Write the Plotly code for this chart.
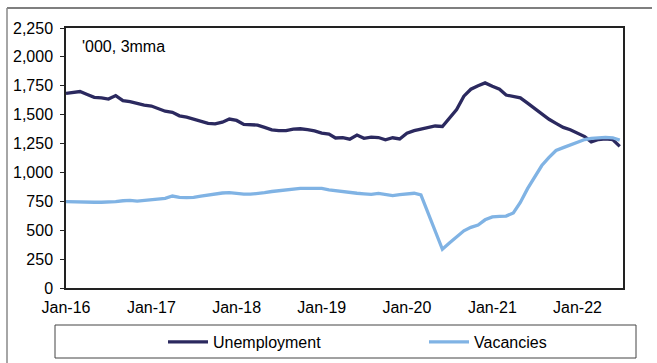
import plotly.graph_objects as go
import pandas as pd

months = pd.date_range("2016-01-01", "2022-07-01", freq="MS")

unemployment = [
    1685, 1695, 1700, 1675, 1650, 1645, 1635, 1665, 1622, 1612, 1595, 1582,
    1575, 1550, 1530, 1520, 1490, 1478, 1460, 1440, 1425, 1420, 1435, 1462,
    1450, 1415, 1412, 1410, 1390, 1368, 1362, 1362, 1375, 1378, 1370, 1360,
    1340, 1332, 1298, 1302, 1288, 1324, 1295, 1305, 1302, 1282, 1300, 1290,
    1340, 1362, 1375, 1387, 1402, 1398, 1470, 1545, 1660, 1720, 1750, 1775,
    1745, 1720, 1670, 1655, 1645, 1600, 1555, 1515, 1460, 1425, 1390, 1370,
    1340, 1310, 1265, 1285, 1290, 1285, 1225,
]

vacancies = [
    748, 745, 743, 742, 742, 742, 742, 748, 755, 758, 752, 758,
    762, 770, 776, 796, 784, 782, 784, 795, 805, 815, 822, 825,
    818, 812, 812, 815, 825, 835, 842, 850, 858, 862, 862, 860,
    862, 850, 842, 835, 828, 820, 815, 811, 818, 812, 800, 808,
    815, 820, 805, 650, 490, 335, 390, 440, 495, 525, 545, 590,
    615, 620, 622, 650, 740, 860, 960, 1060, 1130, 1190, 1215, 1240,
    1265, 1285, 1295, 1302, 1303, 1300, 1280,
]

unit_label = "'000, 3mma"
series_names = ["Unemployment", "Vacancies"]
y_ticks = [0, 250, 500, 750, 1000, 1250, 1500, 1750, 2000, 2250]

FONT = "Liberation Sans, Arial, sans-serif"
FS = 16
W, H = 657, 363
L, R, T, B = 66, 34, 28, 75
pw, ph = W - L - R, H - T - B

def px_x(p):
    return (p - L) / pw

def px_y(p):
    return (H - B - p) / ph

fig = go.Figure()
fig.add_trace(go.Scatter(x=months, y=unemployment, name=series_names[0], mode="lines",
                         line=dict(color="#2B295F", width=3.3), legend="legend"))
fig.add_trace(go.Scatter(x=months, y=vacancies, name=series_names[1], mode="lines",
                         line=dict(color="#80B3E4", width=3.3), legend="legend2"))

leg_common = dict(orientation="h", yanchor="middle", bgcolor="rgba(0,0,0,0)",
                  font=dict(family=FONT, size=FS), itemwidth=40)

fig.update_layout(
    width=W, height=H,
    margin=dict(l=L, r=R, t=T, b=B, autoexpand=False),
    paper_bgcolor="white", plot_bgcolor="white",
    font=dict(family=FONT, size=FS, color="black"),
    showlegend=True,
    legend=dict(x=px_x(163), y=px_y(342), xanchor="left", **leg_common),
    legend2=dict(x=px_x(424), y=px_y(342), xanchor="left", **leg_common),
    xaxis=dict(type="date", range=["2016-01-01", "2022-07-15"], dtick="M12",
               tick0="2016-01-01", tickformat="%b-%y", ticks="", showgrid=False,
               showline=True, linecolor="#222", linewidth=1.5, mirror=True,
               zeroline=False, tickfont=dict(size=FS), ticklabelstandoff=4),
    yaxis=dict(range=[0, 2250], tickvals=y_ticks, tickformat=",", ticks="outside",
               ticklen=4, tickcolor="#222", showgrid=False, showline=True,
               linecolor="#222", linewidth=1.5, mirror=True, zeroline=False,
               tickfont=dict(size=FS), ticklabelstandoff=4),
)

fig.add_annotation(text=unit_label, xref="paper", yref="paper", x=px_x(80), y=px_y(47),
                   xanchor="left", yanchor="middle", showarrow=False,
                   font=dict(family=FONT, size=FS, color="black"))

# legend frame
fig.add_shape(type="rect", xref="paper", yref="paper", x0=px_x(55), x1=px_x(636),
              y0=px_y(325), y1=px_y(358), line=dict(color="#444", width=1))
# outer frame lines
fig.add_shape(type="line", xref="paper", yref="paper", x0=px_x(7), x1=px_x(652),
              y0=px_y(8), y1=px_y(8), line=dict(color="black", width=1.2))
fig.add_shape(type="line", xref="paper", yref="paper", x0=px_x(7), x1=px_x(7),
              y0=px_y(8), y1=px_y(363), line=dict(color="#888", width=1.5))

fig.write_html("out.html", config={"displayModeBar": False},
               post_script="document.body.style.margin='0';document.body.style.overflow='hidden';")
